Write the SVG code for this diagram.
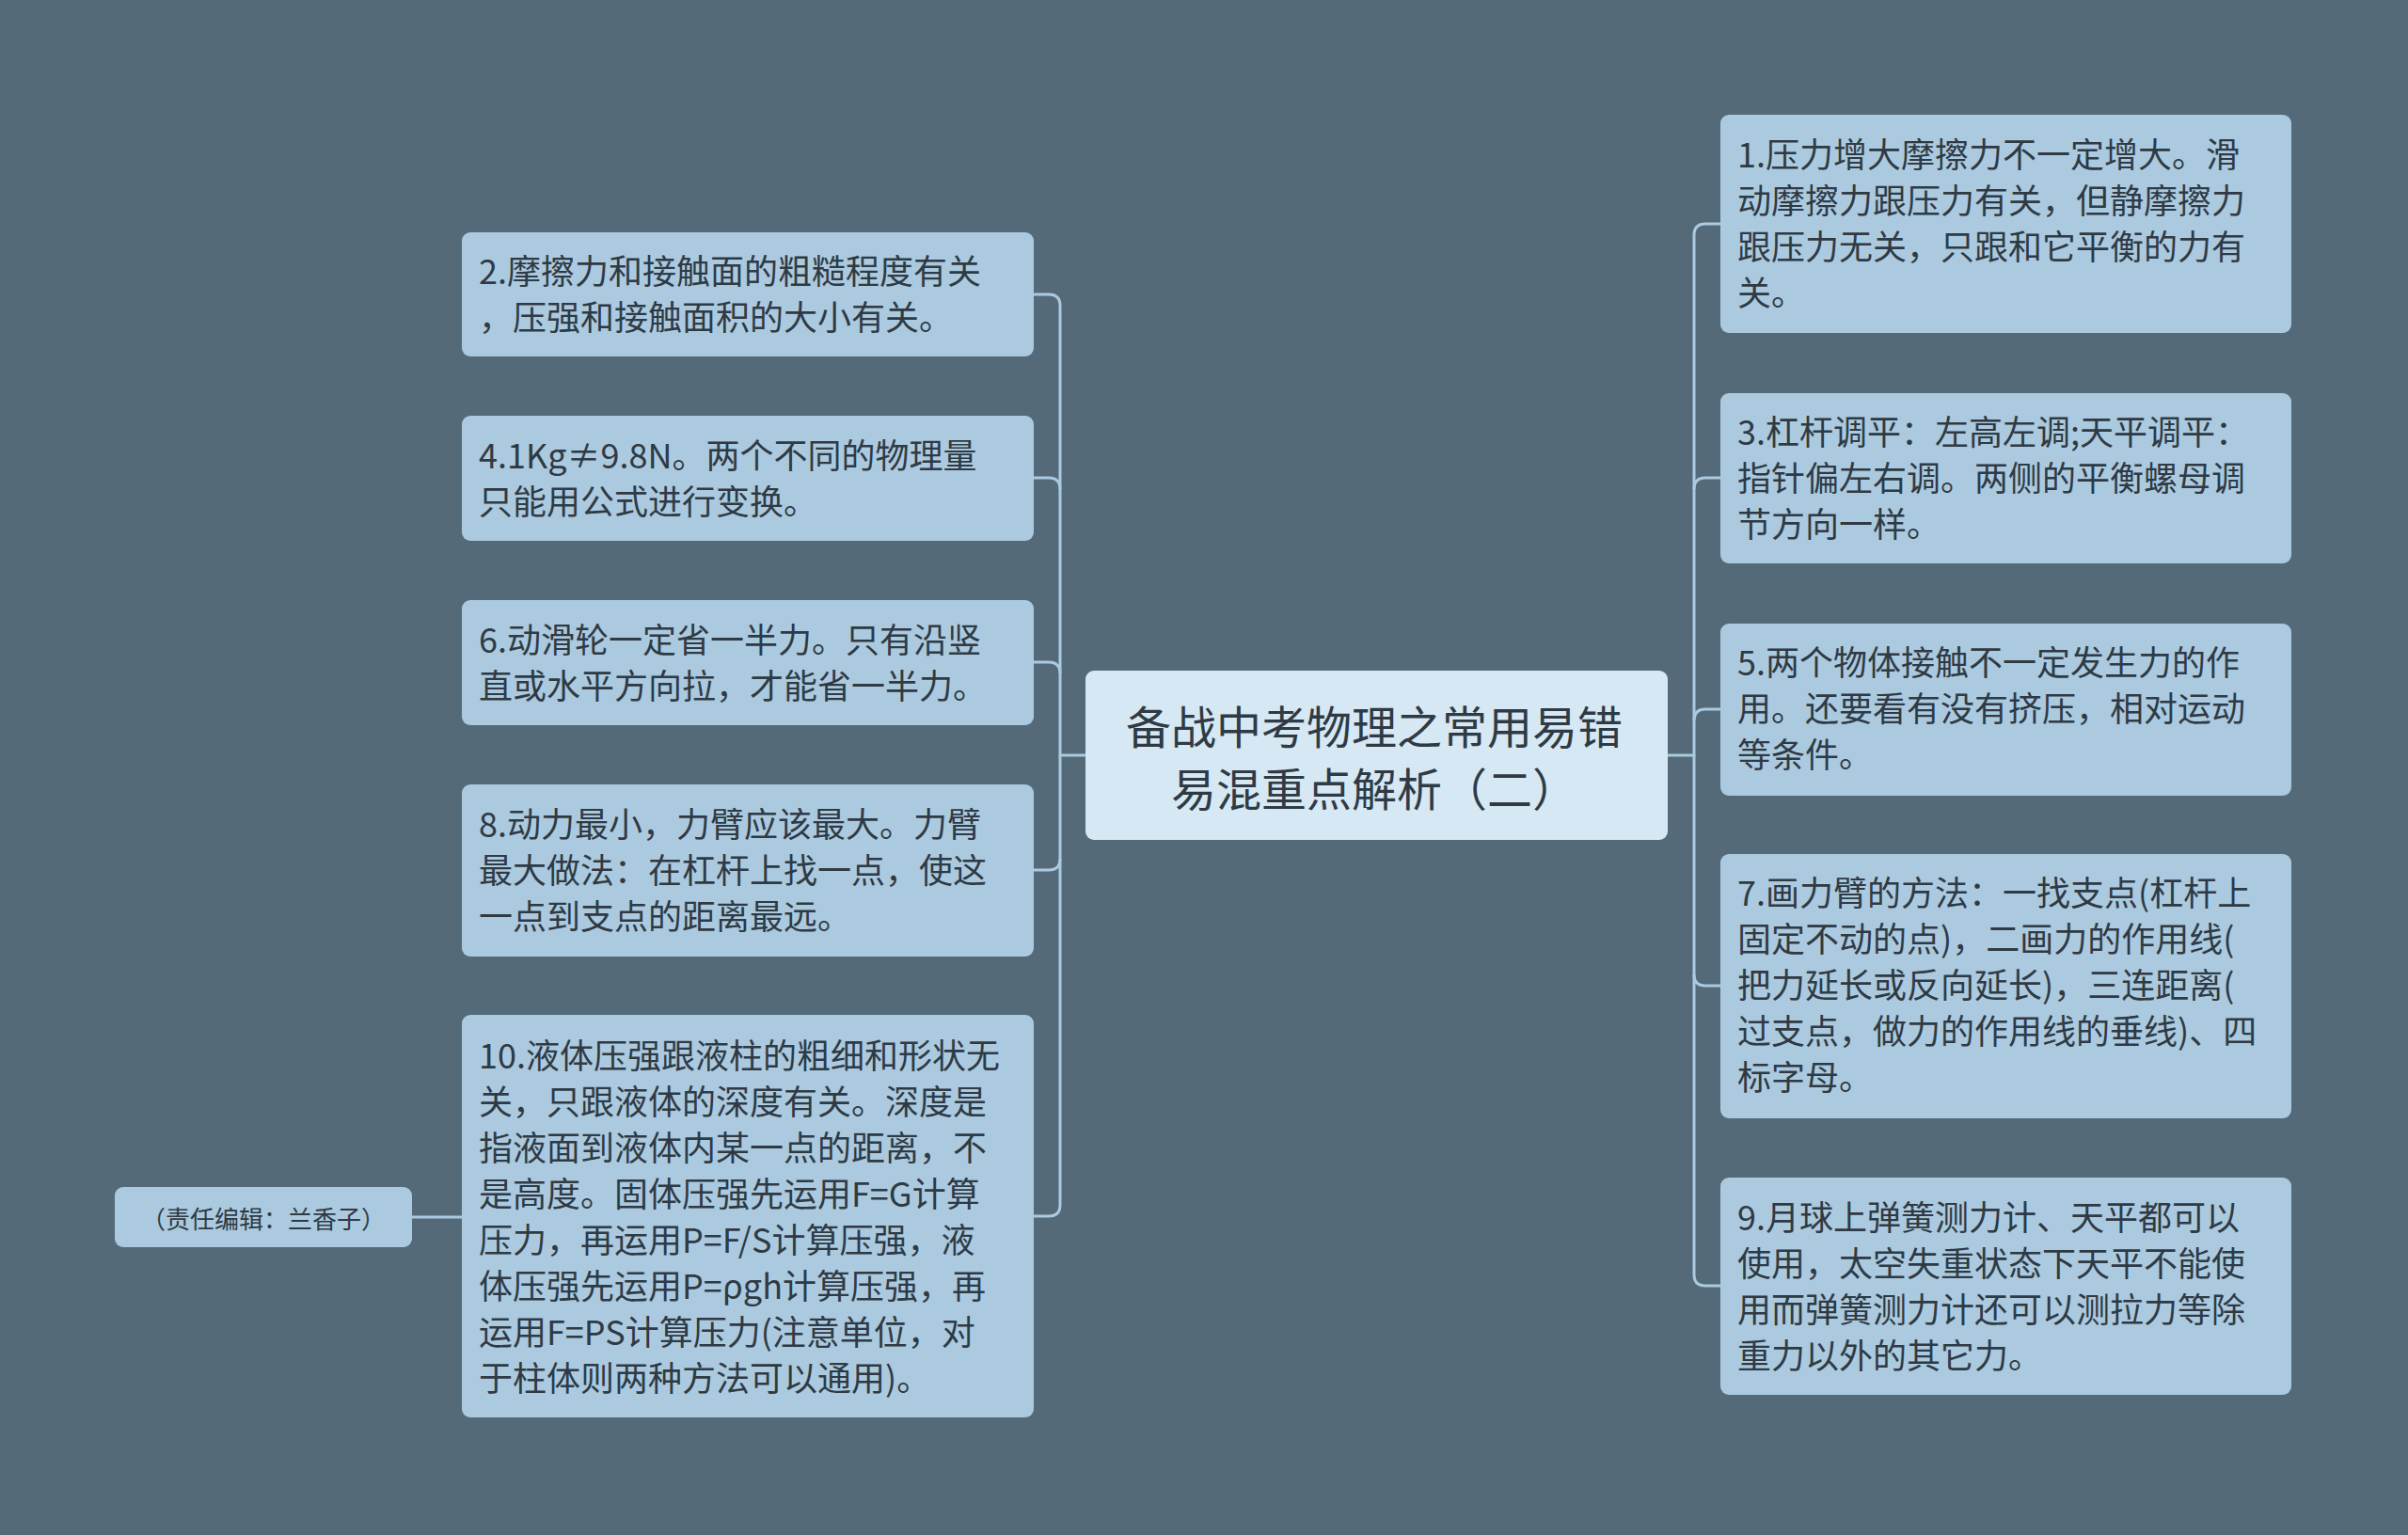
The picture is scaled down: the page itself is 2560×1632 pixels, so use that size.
<svg xmlns="http://www.w3.org/2000/svg" width="2560" height="1632" viewBox="0 0 2560 1632">
<style>
.n{fill:#abcae0;}
.c{fill:#d5e8f4;}
.t{font-family:"Noto Sans CJK SC","Noto Sans",sans-serif;font-size:36px;fill:#2f3a44;dominant-baseline:central;}
.ct{font-size:48px;text-anchor:middle;}
.e{font-size:26px;text-anchor:middle;}
.l{fill:none;stroke:#abcae0;stroke-width:3;}
</style>
<rect width="2560" height="1632" fill="#546a79"/>
<g id="connectors">
<path class="l" d="M1154 803H1127V325Q1127 313 1115 313H1099"/>
<path class="l" d="M1127 520Q1127 508 1115 508H1099"/>
<path class="l" d="M1127 716Q1127 704 1115 704H1099"/>
<path class="l" d="M1127 803V913Q1127 925 1115 925H1099"/>
<path class="l" d="M1127 913V1281Q1127 1293 1115 1293H1099"/>
<path class="l" d="M1773 803H1801V250Q1801 238 1813 238H1829"/>
<path class="l" d="M1801 520Q1801 508 1813 508H1829"/>
<path class="l" d="M1801 766Q1801 754 1813 754H1829"/>
<path class="l" d="M1801 803V1036Q1801 1048 1813 1048H1829"/>
<path class="l" d="M1801 1036V1355Q1801 1367 1813 1367H1829"/>
<path class="l" d="M438 1294H491"/>
</g>
<g id="center"><rect class="c" x="1154" y="713" width="619" height="180" rx="9"/>
<text class="t ct" x="1461" y="770">备战中考物理之常用易错</text><text class="t ct" x="1461" y="836">易混重点解析（二）</text></g>
<g id="n2"><rect class="n" x="491" y="247" width="608" height="132" rx="9"/>
<text class="t" x="509" y="286">2.摩擦力和接触面的粗糙程度有关</text><text class="t" x="509" y="335">，压强和接触面积的大小有关。</text></g>
<g id="n4"><rect class="n" x="491" y="442" width="608" height="133" rx="9"/>
<text class="t" x="509" y="482">4.1Kg≠9.8N。两个不同的物理量</text><text class="t" x="509" y="531">只能用公式进行变换。</text></g>
<g id="n6"><rect class="n" x="491" y="638" width="608" height="133" rx="9"/>
<text class="t" x="509" y="678">6.动滑轮一定省一半力。只有沿竖</text><text class="t" x="509" y="727">直或水平方向拉，才能省一半力。</text></g>
<g id="n8"><rect class="n" x="491" y="834" width="608" height="183" rx="9"/>
<text class="t" x="509" y="874">8.动力最小，力臂应该最大。力臂</text><text class="t" x="509" y="923">最大做法：在杠杆上找一点，使这</text><text class="t" x="509" y="972">一点到支点的距离最远。</text></g>
<g id="n10"><rect class="n" x="491" y="1079" width="608" height="428" rx="9"/>
<text class="t" x="509" y="1120">10.液体压强跟液柱的粗细和形状无</text>
<text class="t" x="509" y="1169">关，只跟液体的深度有关。深度是</text>
<text class="t" x="509" y="1218">指液面到液体内某一点的距离，不</text>
<text class="t" x="509" y="1267">是高度。固体压强先运用F=G计算</text>
<text class="t" x="509" y="1316">压力，再运用P=F/S计算压强，液</text>
<text class="t" x="509" y="1365">体压强先运用P=ρgh计算压强，再</text>
<text class="t" x="509" y="1414">运用F=PS计算压力(注意单位，对</text>
<text class="t" x="509" y="1463">于柱体则两种方法可以通用)。</text></g>
<g id="editor"><rect class="n" x="122" y="1262" width="316" height="64" rx="9"/>
<text class="t e" x="280" y="1294">（责任编辑：兰香子）</text></g>
<g id="n1"><rect class="n" x="1829" y="122" width="607" height="232" rx="9"/>
<text class="t" x="1847" y="162">1.压力增大摩擦力不一定增大。滑</text><text class="t" x="1847" y="211">动摩擦力跟压力有关，但静摩擦力</text><text class="t" x="1847" y="260">跟压力无关，只跟和它平衡的力有</text><text class="t" x="1847" y="309">关。</text></g>
<g id="n3"><rect class="n" x="1829" y="418" width="607" height="181" rx="9"/>
<text class="t" x="1847" y="457">3.杠杆调平：左高左调;天平调平：</text><text class="t" x="1847" y="506">指针偏左右调。两侧的平衡螺母调</text><text class="t" x="1847" y="555">节方向一样。</text></g>
<g id="n5"><rect class="n" x="1829" y="663" width="607" height="183" rx="9"/>
<text class="t" x="1847" y="702">5.两个物体接触不一定发生力的作</text><text class="t" x="1847" y="751">用。还要看有没有挤压，相对运动</text><text class="t" x="1847" y="800">等条件。</text></g>
<g id="n7"><rect class="n" x="1829" y="908" width="607" height="281" rx="9"/>
<text class="t" x="1847" y="947">7.画力臂的方法：一找支点(杠杆上</text><text class="t" x="1847" y="996">固定不动的点)，二画力的作用线(</text><text class="t" x="1847" y="1045">把力延长或反向延长)，三连距离(</text><text class="t" x="1847" y="1094">过支点，做力的作用线的垂线)、四</text><text class="t" x="1847" y="1143">标字母。</text></g>
<g id="n9"><rect class="n" x="1829" y="1252" width="607" height="231" rx="9"/>
<text class="t" x="1847" y="1292">9.月球上弹簧测力计、天平都可以</text><text class="t" x="1847" y="1341">使用，太空失重状态下天平不能使</text><text class="t" x="1847" y="1390">用而弹簧测力计还可以测拉力等除</text><text class="t" x="1847" y="1439">重力以外的其它力。</text></g>
</svg>
